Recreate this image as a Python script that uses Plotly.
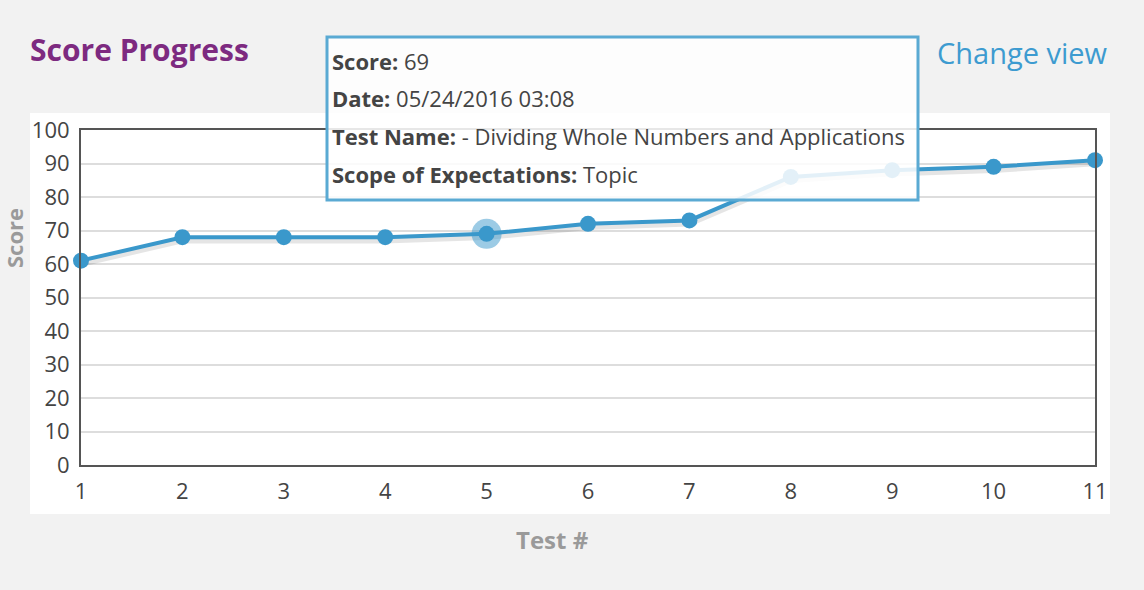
import plotly.graph_objects as go

tests = [1, 2, 3, 4, 5, 6, 7, 8, 9, 10, 11]
scores = [61, 68, 68, 68, 69, 72, 73, 86, 88, 89, 91]
y_ticks = [0, 10, 20, 30, 40, 50, 60, 70, 80, 90, 100]
hover_index = 4
tooltip_lines = [
    ("Score:", "69"),
    ("Date:", "05/24/2016 03:08"),
    ("Test Name:", "- Dividing Whole Numbers and Applications"),
    ("Scope of Expectations:", "Topic"),
]

W, H = 1144, 590
L, R, T, B = 81, 1095, 130, 465
FONT = "'Open Sans', Lato, sans-serif"


def px(x):
    return (x - L) / (R - L)


def py(y):
    return (B - y) / (B - T)


fig = go.Figure()

# soft shadow under the line
fig.add_trace(go.Scatter(
    x=tests, y=[s - 0.8 for s in scores], mode="lines",
    line=dict(color="rgba(0,0,0,0.10)", width=7),
    hoverinfo="skip", showlegend=False, cliponaxis=False))

fig.add_trace(go.Scatter(
    x=tests, y=scores, mode="lines+markers",
    line=dict(color="#3a98cb", width=4),
    marker=dict(color="#3a98cb", size=16),
    hoverinfo="skip", showlegend=False, cliponaxis=False))

# hover halo
fig.add_trace(go.Scatter(
    x=[tests[hover_index]], y=[scores[hover_index]], mode="markers",
    marker=dict(color="rgba(58,152,203,0.5)", size=30),
    hoverinfo="skip", showlegend=False, cliponaxis=False))

shapes = [
    dict(type="rect", xref="paper", yref="paper", layer="below",
         x0=px(30), x1=px(1110), y0=py(514), y1=py(113),
         fillcolor="white", line=dict(width=0)),
    dict(type="rect", xref="paper", yref="paper", layer="above",
         x0=px(327), x1=px(918), y0=py(200), y1=py(37),
         fillcolor="rgba(255,255,255,0.86)",
         line=dict(color="#5aaad3", width=3)),
]

annotations = [
    dict(text="<b>Score Progress</b>", xref="paper", yref="paper",
         x=px(28), y=py(49), xanchor="left", yanchor="middle", showarrow=False,
         font=dict(family=FONT, size=30, color="#7d2a80")),
    dict(text="Change view", xref="paper", yref="paper",
         x=px(1110), y=py(53), xanchor="right", yanchor="middle", showarrow=False,
         font=dict(family=FONT, size=29, color="#3d9bd0")),
    dict(text="<b>Test #</b>", xref="paper", yref="paper",
         x=px(552), y=py(539), xanchor="center", yanchor="middle", showarrow=False,
         font=dict(family=FONT, size=24, color="#9a9a9a")),
    dict(text="<b>Score</b>", xref="paper", yref="paper", textangle=-90,
         x=px(14), y=py(238), xanchor="center", yanchor="middle", showarrow=False,
         font=dict(family=FONT, size=22, color="#9a9a9a")),
]

line_ys = [61, 98, 136, 174]
for (k, v), yy in zip(tooltip_lines, line_ys):
    annotations.append(dict(
        text=f"<b>{k}</b> {v}", xref="paper", yref="paper",
        x=px(330), y=py(yy), xanchor="left", yanchor="middle", showarrow=False,
        font=dict(family=FONT, size=22, color="#444444")))

fig.update_layout(
    width=W, height=H,
    margin=dict(l=L, r=W - R, t=T, b=H - B),
    paper_bgcolor="#f2f2f2", plot_bgcolor="white",
    shapes=shapes, annotations=annotations,
    font=dict(family=FONT, color="#444444"),
    showlegend=False,
)
fig.update_xaxes(
    range=[1, 11], tickmode="array", tickvals=tests,
    showgrid=False, zeroline=False,
    showline=True, mirror=True, linecolor="#555555", linewidth=2,
    ticks="", ticklabelstandoff=6,
    tickfont=dict(family=FONT, size=22, color="#444444"))
fig.update_yaxes(
    range=[0, 100], tickmode="array", tickvals=y_ticks,
    showgrid=True, gridcolor="#dddddd", gridwidth=2, zeroline=False,
    showline=True, mirror=True, linecolor="#555555", linewidth=2,
    ticks="", ticklabelstandoff=5,
    tickfont=dict(family=FONT, size=22, color="#444444"))

fig.write_html(
    "out.html",
    config={"displayModeBar": False},
    post_script="document.body.style.margin='0';"
                "document.body.style.background='#f2f2f2';"
                "document.body.style.overflow='hidden';",
)
